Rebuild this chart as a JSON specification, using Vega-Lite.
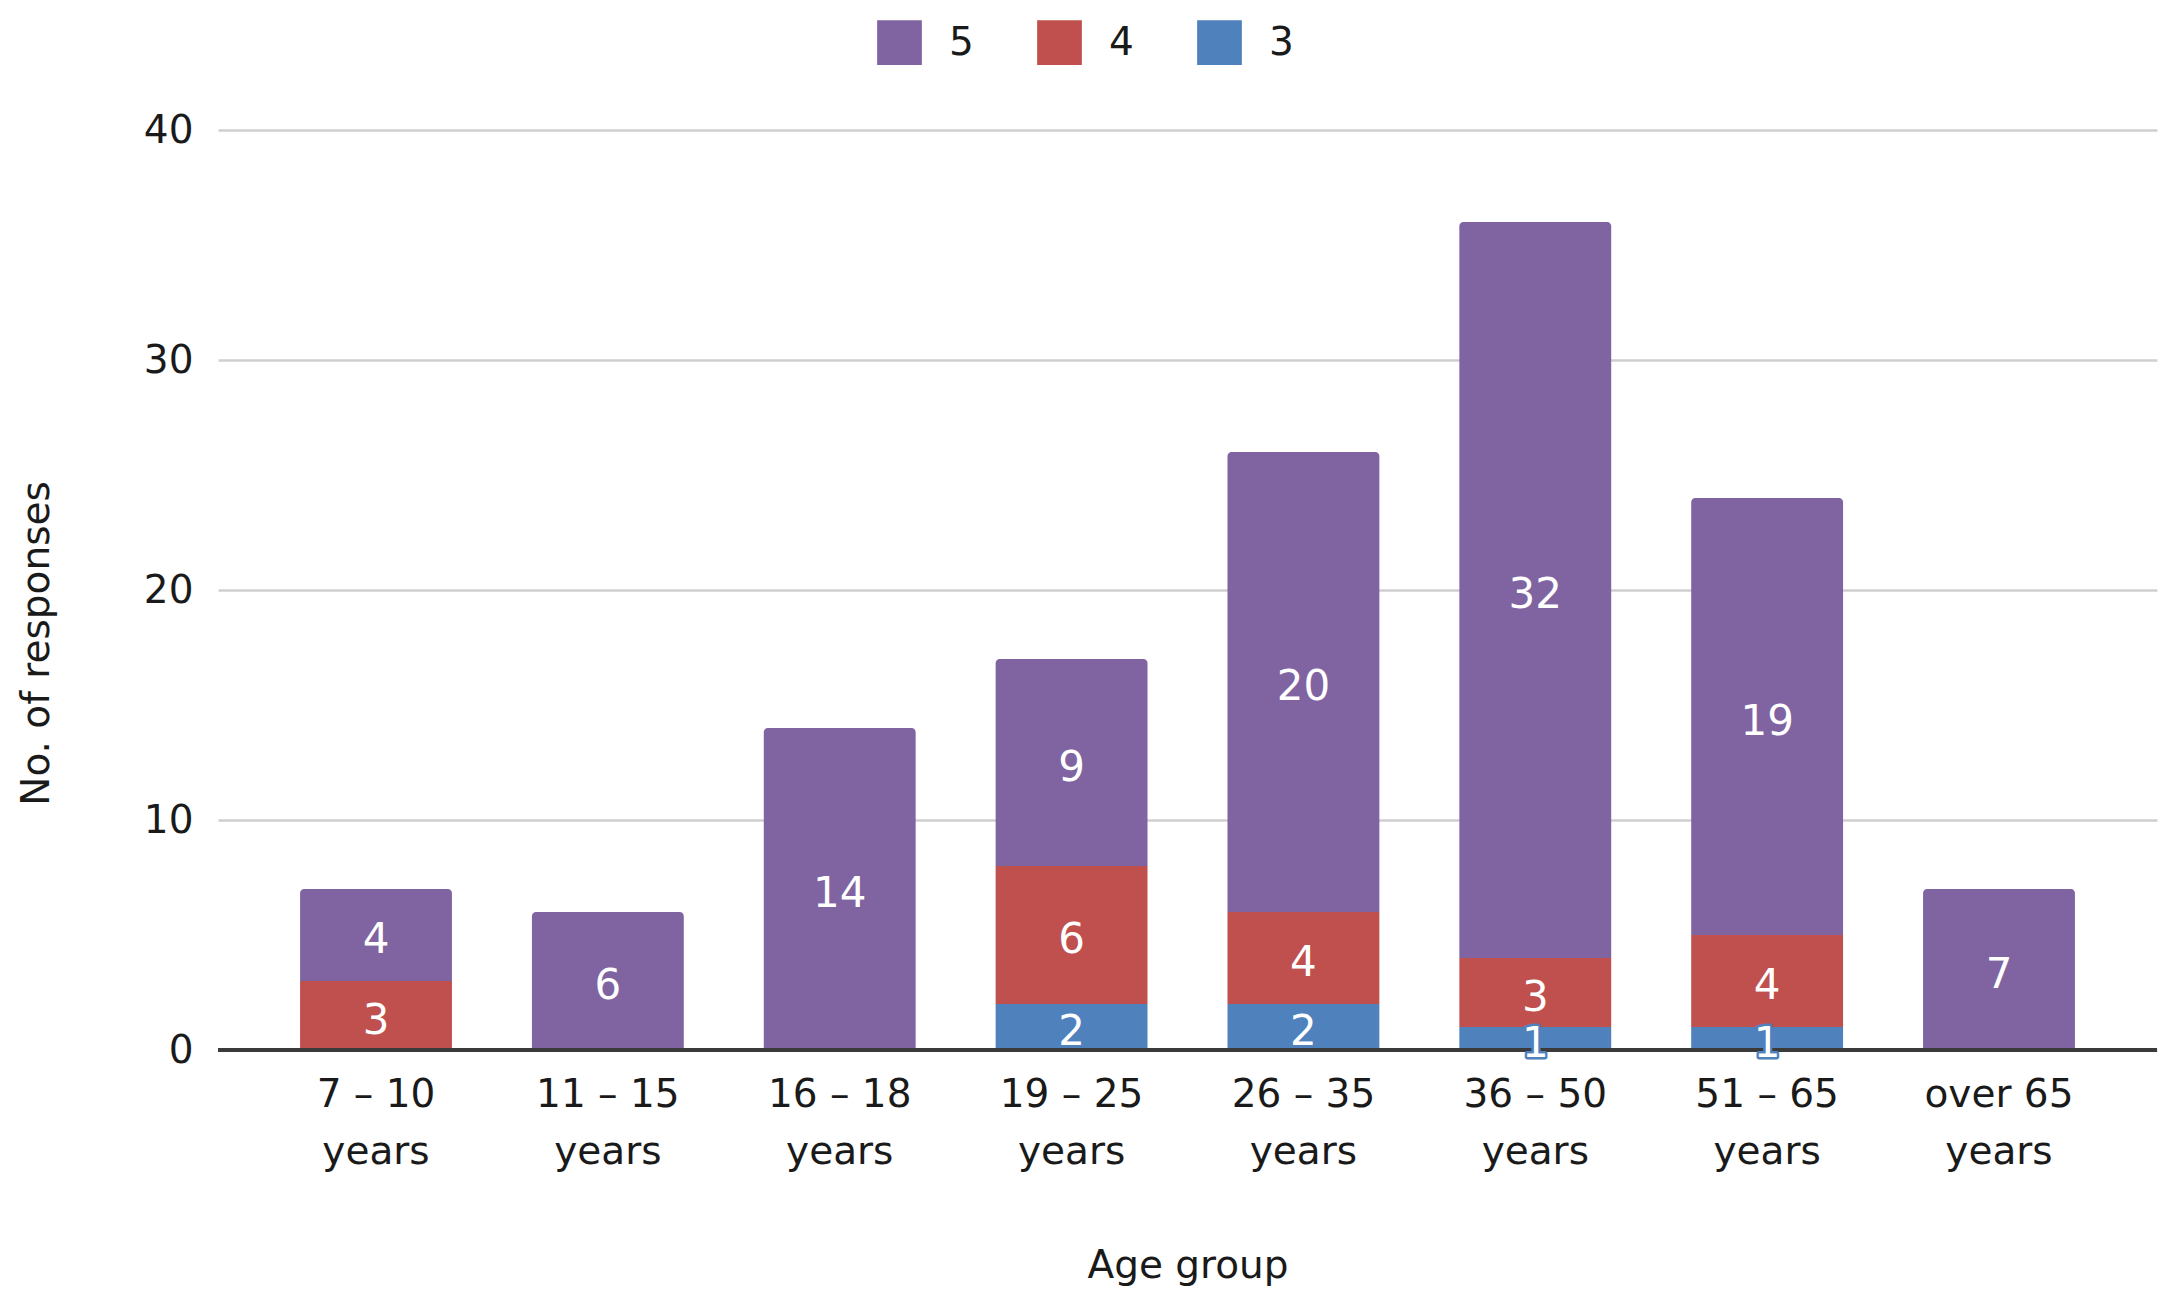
{
  "$schema": "https://vega.github.io/schema/vega-lite/v6.json",
  "width": 1939,
  "height": 920,
  "autosize": {"type": "none"},
  "padding": {"left": 218, "top": 130, "right": 25, "bottom": 254},
  "background": "white",
  "config": {"view": {"stroke": null}, "font": "DejaVu Sans"},
  "data": {
    "values": [
      {"age": "7 – 10 years", "rating": "4", "count": 3},
      {"age": "7 – 10 years", "rating": "5", "count": 4},
      {"age": "11 – 15 years", "rating": "5", "count": 6},
      {"age": "16 – 18 years", "rating": "5", "count": 14},
      {"age": "19 – 25 years", "rating": "3", "count": 2},
      {"age": "19 – 25 years", "rating": "4", "count": 6},
      {"age": "19 – 25 years", "rating": "5", "count": 9},
      {"age": "26 – 35 years", "rating": "3", "count": 2},
      {"age": "26 – 35 years", "rating": "4", "count": 4},
      {"age": "26 – 35 years", "rating": "5", "count": 20},
      {"age": "36 – 50 years", "rating": "3", "count": 1},
      {"age": "36 – 50 years", "rating": "4", "count": 3},
      {"age": "36 – 50 years", "rating": "5", "count": 32},
      {"age": "51 – 65 years", "rating": "3", "count": 1},
      {"age": "51 – 65 years", "rating": "4", "count": 4},
      {"age": "51 – 65 years", "rating": "5", "count": 19},
      {"age": "over 65 years", "rating": "5", "count": 7}
    ]
  },
  "transform": [
    {"stack": "count", "groupby": ["age"], "sort": [{"field": "rating", "order": "ascending"}], "as": ["y0", "y1"]}
  ],
  "encoding": {
    "x": {
      "field": "age",
      "type": "nominal",
      "sort": ["7 – 10 years", "11 – 15 years", "16 – 18 years", "19 – 25 years", "26 – 35 years", "36 – 50 years", "51 – 65 years", "over 65 years"],
      "scale": {"paddingInner": 0.345, "paddingOuter": 0.354},
      "axis": {
        "title": "Age group",
        "titleFontSize": 39,
        "titleFontWeight": "normal",
        "titleColor": "#1a1a1a",
        "titleY": 227,
        "titleBaseline": "alphabetic",
        "labelFontSize": 39,
        "labelColor": "#1a1a1a",
        "labelLineHeight": 57,
        "labelPadding": 25,
        "labelAngle": 0,
        "labelExpr": "[replace(datum.label, ' years', ''), 'years']",
        "ticks": false,
        "tickSize": 0,
        "domain": false
      }
    }
  },
  "layer": [
    {
      "transform": [{"filter": "datum.rating != '5'"}],
      "mark": {"type": "bar"},
      "encoding": {
        "y": {
          "field": "y0",
          "type": "quantitative",
          "scale": {"domain": [0, 40]},
          "axis": {
            "title": "No. of responses",
            "titleFontSize": 39,
            "titleFontWeight": "normal",
            "titleColor": "#1a1a1a",
            "titleAngle": -90,
            "titleX": -182,
            "titleY": 513,
            "titleBaseline": "middle",
            "titleAlign": "center",
            "labelFontSize": 39,
            "labelColor": "#1a1a1a",
            "labelPadding": 25,
            "values": [0, 10, 20, 30, 40],
            "ticks": false,
            "tickSize": 0,
            "domain": false,
            "grid": true,
            "gridColor": "#cfcfcf",
            "gridWidth": 2.5,
            "zindex": 0
          }
        },
        "y2": {"field": "y1"},
        "color": {
          "field": "rating",
          "type": "nominal",
          "scale": {"domain": ["5", "4", "3"], "range": ["#8064A2", "#C0504D", "#4F81BD"]},
          "legend": {
            "orient": "none",
            "legendX": 659,
            "legendY": -110,
            "direction": "horizontal",
            "title": null,
            "symbolType": "square",
            "symbolSize": 2000,
            "symbolStrokeWidth": 0,
            "symbolOpacity": 1,
            "labelFontSize": 39,
            "labelColor": "#1a1a1a",
            "labelOffset": 27,
            "columnPadding": 63
          }
        }
      }
    },
    {
      "transform": [{"filter": "datum.rating == '5'"}],
      "mark": {"type": "bar", "cornerRadiusTopLeft": 4, "cornerRadiusTopRight": 4},
      "encoding": {
        "y": {"field": "y0", "type": "quantitative"},
        "y2": {"field": "y1"},
        "color": {"field": "rating", "type": "nominal"}
      }
    },
    {
      "mark": {"type": "rule", "color": "#3a3a3a", "strokeWidth": 3},
      "encoding": {"y": {"datum": 0}, "x": {"value": 0}, "x2": {"value": 1939}}
    },
    {
      "transform": [{"calculate": "(datum.y0 + datum.y1) / 2", "as": "ymid"}],
      "mark": {"type": "text", "fontSize": 42, "baseline": "middle", "align": "center", "dy": 5, "strokeWidth": 5, "strokeJoin": "round"},
      "encoding": {
        "y": {"field": "ymid", "type": "quantitative"},
        "text": {"field": "count", "type": "quantitative"},
        "color": {"field": "rating", "type": "nominal"},
        "stroke": {"field": "rating", "type": "nominal", "scale": {"domain": ["5", "4", "3"], "range": ["#8064A2", "#C0504D", "#4F81BD"]}, "legend": null}
      }
    },
    {
      "transform": [{"calculate": "(datum.y0 + datum.y1) / 2", "as": "ymid"}],
      "mark": {"type": "text", "color": "white", "fontSize": 42, "baseline": "middle", "align": "center", "dy": 5},
      "encoding": {
        "y": {"field": "ymid", "type": "quantitative"},
        "text": {"field": "count", "type": "quantitative"}
      }
    }
  ]
}
